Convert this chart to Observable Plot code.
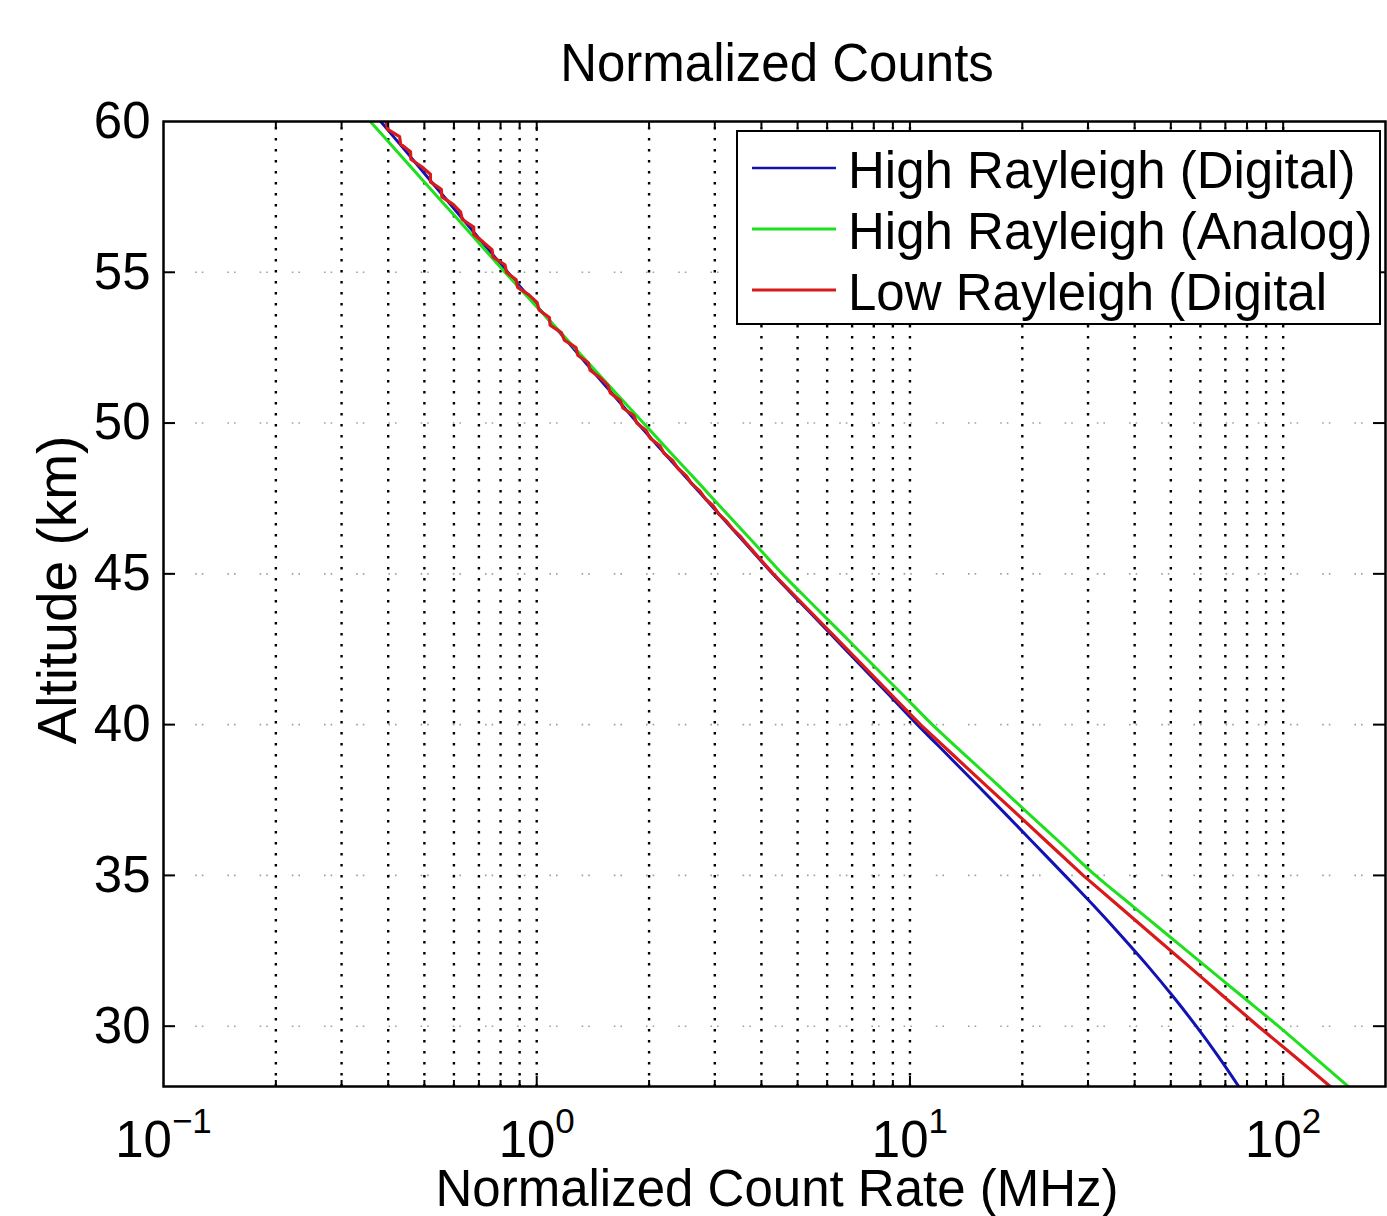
<!DOCTYPE html>
<html><head><meta charset="utf-8">
<script src="https://cdn.jsdelivr.net/npm/d3@7"></script>
<script src="https://cdn.jsdelivr.net/npm/@observablehq/plot@0.6"></script>
<style>
body{margin:0;background:#fff;}
#wrap{position:relative;width:1387px;height:1216px;overflow:hidden;font-family:"Liberation Sans",Arial,Helvetica,sans-serif;color:#000;background:#fff;}
.lbl{position:absolute;white-space:nowrap;font-size:51px;line-height:51px;}
#wrap svg{position:absolute;left:0;top:0;}
</style></head><body><div id="wrap"></div>
<script>
// ---- data ----
const chartTitle = "Normalized Counts";
const xLabel = "Normalized Count Rate (MHz)";
const yLabel = "Altitude (km)";
const seriesNames = ["High Rayleigh (Digital)", "High Rayleigh (Analog)", "Low Rayleigh (Digital"];
const seriesColors = ["#1212b4", "#1fe01f", "#d81a1a"];

const altitude = [60,59,58,57,56,55,54,53,52,51,50,49,48,47,46,45,44,43,42,41,40,39,38,37,36,35,34,33,32,31,30,29,28];
const highDigital = [0.382,0.447,0.522,0.611,0.714,0.836,0.982,1.153,1.352,1.589,1.862,2.198,2.600,3.069,3.631,4.285,5.129,6.138,7.328,8.770,10.47,12.59,15.14,18.16,21.73,26.00,31.05,36.81,43.35,50.58,58.48,66.99,76.03];
const highAnalog = [0.358,0.423,0.499,0.590,0.697,0.822,0.975,1.159,1.374,1.629,1.932,2.291,2.723,3.228,3.837,4.550,5.470,6.592,7.925,9.550,11.48,14.03,17.18,20.99,25.70,31.41,39.36,49.32,61.80,77.45,97.05,120.5,149.3];

const lowAltitude = [60,59.75,59.5,59.25,59,58.75,58.5,58.25,58,57.75,57.5,57.25,57,56.75,56.5,56.25,56,55.75,55.5,55.25,55,54.75,54.5,54.25,54,53.75,53.5,53.25,53,52.75,52.5,52.25,52,51.75,51.5,51.25,51,50.75,50.5,50.25,50,49.75,49.5,49.25,49,48.75,48.5,48.25,48,47.75,47.5,47.25,47,46.75,46.5,46.25,46,45,44,43,42,41,40,39,38,37,36,35,34,33,32,31,30,29,28];
const lowDigital = [0.395,0.398,0.429,0.432,0.459,0.460,0.492,0.519,0.519,0.555,0.557,0.597,0.625,0.632,0.678,0.678,0.719,0.759,0.764,0.822,0.830,0.881,0.889,0.953,1.002,1.014,1.081,1.086,1.164,1.186,1.274,1.288,1.374,1.390,1.479,1.552,1.574,1.675,1.702,1.820,1.854,1.963,2.014,2.138,2.193,2.317,2.388,2.518,2.594,2.735,2.825,2.972,3.069,3.221,3.342,3.508,3.648,4.305,5.164,6.194,7.430,8.892,10.67,13.03,15.92,19.50,23.82,29.11,36.14,44.87,55.72,69.02,85.70,107.2,133.7];

const xMajorTicks = [0.1, 1, 10, 100];
const xMinorTicks = [0.2,0.3,0.4,0.5,0.6,0.7,0.8,0.9,2,3,4,5,6,7,8,9,20,30,40,50,60,70,80,90];
const yTicks = [30, 35, 40, 45, 50, 55, 60];

// ---- build rows ----
const highRows = [];
altitude.forEach((a, i) => highRows.push({series: seriesNames[0], alt: a, value: highDigital[i]}));
altitude.forEach((a, i) => highRows.push({series: seriesNames[1], alt: a, value: highAnalog[i]}));
const lowRows = lowAltitude.map((a, i) => ({series: seriesNames[2], alt: a, value: lowDigital[i]}));

const W = 1387, H = 1216, mL = 163, mR = 2, mT = 121, mB = 130;
const plotW = W - mL - mR, plotH = H - mT - mB;
const xGrid = xMinorTicks.concat(xMajorTicks.slice(1)).sort((a, b) => a - b);
const yInner = yTicks.slice(0, -1);
const font = '"Liberation Sans", Arial, Helvetica, sans-serif';

const chart = Plot.plot({
  width: W, height: H,
  marginLeft: mL, marginRight: mR, marginTop: mT, marginBottom: mB,
  style: {fontFamily: font, fontSize: "51px", background: "transparent", overflow: "visible"},
  x: {type: "log", domain: [0.1, 188], label: null},
  y: {domain: [28, 60], label: null},
  color: {domain: seriesNames, range: seriesColors},
  marks: [
    Plot.ruleY(yInner, {y: d => d, stroke: "#a0a0a0", strokeWidth: 1.6, strokeDasharray: "1.6,5,1.6,24"}),
    Plot.ruleX(xGrid, {x: d => d, stroke: "#000", strokeWidth: 2.4, strokeDasharray: "2.4,8.6", strokeDashoffset: -6}),
    Plot.line(highRows, {x: "value", y: "alt", z: "series", stroke: "series", strokeWidth: 3, curve: "catmull-rom", clip: true}),
    Plot.line(lowRows, {x: "value", y: "alt", z: "series", stroke: "series", strokeWidth: 3.2, clip: true}),
    // inward ticks bottom / top
    Plot.tickX(xMinorTicks, {x: d => d, stroke: "#000", strokeWidth: 2, insetTop: plotH - 6}),
    Plot.tickX(xMajorTicks.slice(1), {x: d => d, stroke: "#000", strokeWidth: 2, insetTop: plotH - 10}),
    Plot.tickX(xMinorTicks, {x: d => d, stroke: "#000", strokeWidth: 2, insetBottom: plotH - 6}),
    Plot.tickX(xMajorTicks.slice(1), {x: d => d, stroke: "#000", strokeWidth: 2, insetBottom: plotH - 10}),
    // inward ticks left / right
    Plot.tickY(yInner, {y: d => d, stroke: "#000", strokeWidth: 2, insetRight: plotW - 12}),
    Plot.tickY(yInner, {y: d => d, stroke: "#000", strokeWidth: 2, insetLeft: plotW - 12}),
    Plot.frame({stroke: "#000", strokeWidth: 2.5}),
    Plot.axisX(xMajorTicks, {tickSize: 0, tickPadding: 34, fontSize: 51, label: null,
      tickFormat: d => "10^" + Math.round(Math.log10(d))}),
    Plot.axisY(yTicks, {tickSize: 0, tickPadding: 13, fontSize: 51, label: null})
  ]
});

const wrap = document.getElementById("wrap");
wrap.appendChild(chart);

// superscript exponents on the x tick labels
d3.select(chart).selectAll('g[aria-label="x-axis tick label"] text').each(function() {
  const t = this.textContent;
  if (!t.startsWith("10^")) return;
  const exp = t.slice(3).replace("-", "\u2212");
  const sel = d3.select(this);
  sel.text("");
  sel.append("tspan").text("10");
  sel.append("tspan").attr("dy", "-24").attr("font-size", "35px").text(exp);
});

// titles
function addLabel(text, css) {
  const d = document.createElement("div");
  d.className = "lbl";
  d.textContent = text;
  Object.assign(d.style, css);
  wrap.appendChild(d);
}
addLabel(chartTitle, {left: "777px", top: "37px", transform: "translateX(-50%) scaleY(1.06)"});
addLabel(xLabel, {left: "777px", top: "1172px", lineHeight: "34px", transform: "translateX(-50%)"});
addLabel(yLabel, {left: "57px", top: "590px", fontSize: "55px", lineHeight: "55px", transform: "translate(-50%,-50%) rotate(-90deg)"});

// legend
const leg = d3.create("svg").attr("width", 646).attr("height", 196)
  .style("left", "736px").style("top", "130px")
  .style("font-family", font);
leg.append("rect").attr("x", 1).attr("y", 1).attr("width", 643).attr("height", 193)
  .attr("fill", "#fff").attr("stroke", "#000").attr("stroke-width", 2);
seriesNames.forEach((n, i) => {
  const cy = 38 + i * 61;
  leg.append("line").attr("x1", 16).attr("x2", 100).attr("y1", cy).attr("y2", cy)
    .attr("stroke", seriesColors[i]).attr("stroke-width", i === 0 ? 2.5 : 3);
  leg.append("text").attr("x", 112).attr("y", cy + 20).attr("font-size", 51).attr("fill", "#000").text(n);
});
wrap.appendChild(leg.node());
</script></body></html>
